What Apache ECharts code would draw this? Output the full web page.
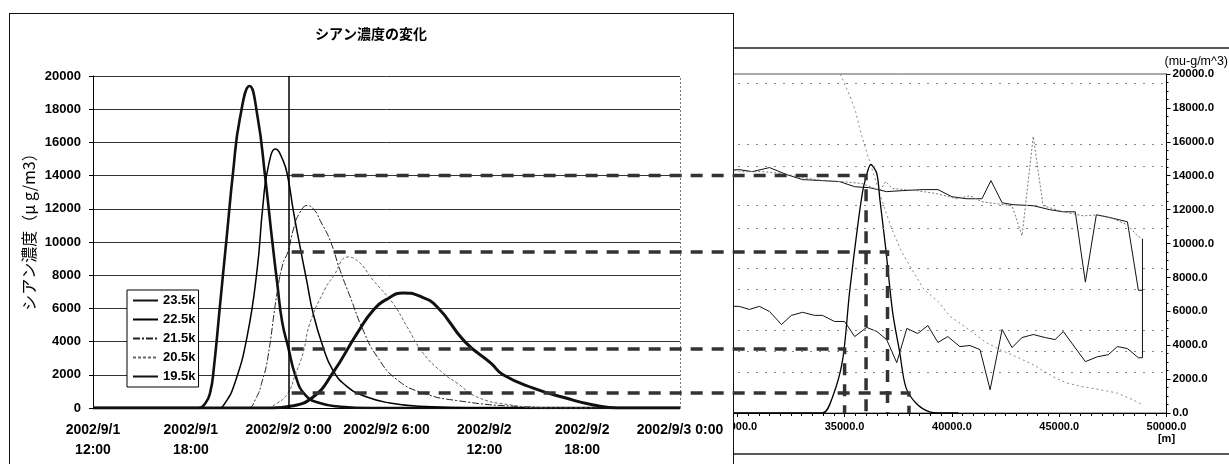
<!DOCTYPE html>
<html>
<head>
<meta charset="utf-8">
<script src="https://cdn.jsdelivr.net/npm/echarts@6/dist/echarts.min.js"></script>
<style>
  html, body { margin: 0; padding: 0; background: #fff; }
  #wrap { position: relative; width: 1229px; height: 464px; overflow: hidden; }
  .layer { position: absolute; left: 0; top: 0; width: 1229px; height: 464px; }
  #panel { position: absolute; left: 9px; top: 13px; width: 723px; height: 470px;
           border: 1px solid #111; background: #fff; }
</style>
</head>
<body>
<div id="wrap">
  <div id="profile" class="layer"></div>
  <div id="panel"></div>
  <div id="timeseries" class="layer"></div>
</div>
<script>
// ---- Time series: hours counted from 2002/9/1 12:00 ----
const hourTickLabels = ['2002/9/1\n12:00', '2002/9/1\n18:00', '2002/9/2 0:00', '2002/9/2 6:00',
                        '2002/9/2\n12:00', '2002/9/2\n18:00', '2002/9/3 0:00'];
const seriesNames = ['23.5k', '22.5k', '21.5k', '20.5k', '19.5k'];

const conc235 = [[0,0],[6.4,0],[6.9,300],[7.2,1000],[7.4,2300],[7.8,6300],[8.2,10300],[8.6,14300],
  [9.0,17400],[9.6,19400],[10.1,17500],[10.55,14000],[11.0,10000],[11.3,7500],[11.6,5200],[12.0,3550],
  [12.4,2000],[13.0,800],[13.9,300],[15.2,80],[17,0],[36,0]];
const conc225 = [[0,0],[7.7,0],[8.1,300],[8.7,1500],[9.45,4300],[10.06,8300],[10.43,12300],[10.74,14500],
  [11.2,15600],[11.66,14900],[11.95,13900],[12.3,11800],[12.7,9700],[13.1,7700],[13.5,5700],[14.1,3700],
  [14.7,2300],[15.6,1270],[16.8,660],[18.2,300],[20,100],[24,0],[36,0]];
const conc215 = [[0,0],[9.45,0],[10.0,600],[10.4,1700],[10.7,2900],[11.3,7000],[11.65,8700],[11.95,9400],
  [12.3,10800],[12.7,11800],[13.15,12200],[13.6,11900],[13.93,11300],[14.54,10100],[15.15,8300],[15.77,6700],
  [16.56,4700],[17.42,3100],[18.65,1700],[20.25,900],[22.3,450],[26,100],[30,0],[36,0]];
const conc205 = [[0,0],[10.5,0],[11.3,300],[11.96,900],[12.4,2000],[12.88,3300],[13.3,5100],[14.23,7170],
  [14.72,7900],[15.64,9100],[16.3,8800],[17.18,7700],[18.4,6300],[19.26,4900],[20.25,3300],[21.47,2100],
  [22.33,1500],[23.56,660],[25.5,200],[28,0],[36,0]];
const conc195 = [[0,0],[11,0],[12.1,100],[13.5,660],[14.7,2100],[16.2,4500],[17.2,5900],[18.1,6600],
  [19.0,6930],[20.0,6750],[21.1,6100],[22.8,4000],[24.4,2700],[25.15,2000],[27.0,1200],[29.0,600],
  [30.7,180],[32.2,0],[36,0]];

// ---- Longitudinal profile along the river (distance in m) ----
const profileUpperSolid = [[29500,14300],[30090,14360],[30700,14240],[31500,14480],[32290,14070],[33040,13770],
  [33970,13710],[34770,13650],[35470,13350],[36170,13290],[36960,13060],[37710,13120],[38650,13180],
  [39350,13180],[40000,12760],[40700,12640],[41400,12640],[41820,13710],[42340,12400],[42850,12290],
  [43790,12230],[44580,11990],[45190,11870],[45750,11870],[46220,7720],[46730,11690],[47240,11570],
  [48180,11280],[48690,7240],[48880,7240]];
const profileUpperDotted = [[29500,14400],[30230,14240],[31170,14240],[32100,14130],[33040,13890],[33970,13710],
  [34910,13650],[35840,13530],[36640,13120],[36920,13650],[37240,13240],[38370,13120],[39300,12940],
  [40230,12640],[40840,12820],[41400,12460],[42100,12350],[42800,12230],[43270,10450],[43790,16320],
  [44250,12230],[45190,11870],[46120,11630],[46780,11690],[47520,11460],[48180,11100],[48650,10450],
  [48880,10270]];
const profileLowerSolid = [[29500,6300],[30090,6290],[30560,6110],[31030,6290],[31500,5990],[32060,5220],
  [32520,5760],[33040,5940],[33600,5760],[33970,5760],[34530,5400],[35000,5400],[35470,4510],[36030,5050],
  [36500,4810],[36960,4330],[37430,2970],[37900,4990],[38410,4690],[38880,5160],[39350,4160],[39810,4510],
  [40370,3920],[40840,3980],[41310,3740],[41780,1370],[42340,4930],[42800,3860],[43270,4450],[43790,4630],
  [44350,4450],[44810,4330],[45190,4810],[46220,3030],[46780,3320],[47290,3440],[47710,3920],[48180,3800],
  [48690,3260],[48880,3260],[48880,10270]];
const profileDecay = [[34800,20000],[35230,18760],[35510,17810],[35700,16800],[35930,15790],[36820,12230],
  [37200,10860],[37660,9500],[38130,8490],[38690,7300],[39390,6530],[39910,5700],[40650,5050],[41590,4160],
  [42240,3740],[42990,3320],[43790,2850],[44720,2140],[45330,1780],[46120,1540],[46920,1370],[47660,1190],
  [48460,770],[48880,480]];
const profilePlume = [[29500,0],[33970,0],[34440,950],[34910,3150],[35230,7120],[35610,11040],[35840,13060],
  [35980,13830],[36220,14660],[36500,14130],[36640,12640],[36920,9670],[37240,5940],[37570,3560],
  [37850,1540],[38320,590],[38970,60],[39500,0],[40300,0]];
const referenceLevels = [19470, 15850, 14540, 12230, 10920, 8550, 7300, 4870, 3620, 2430];

// ---- Links between the 0:00 readings and the profile positions ----
const linkHour = 12;
const linkValues = [14000, 9400, 3550, 900];
const linkDistances = [36000, 37000, 35000, 38000];

const latin = 'Liberation Sans';
const cjk = 'Noto Sans CJK JP';

// ---------- profile chart (underneath) ----------
const profile = echarts.init(document.getElementById('profile'));
const thinLine = (data, color, type, width) => ({
  type: 'line', data, symbol: 'none', silent: true,
  lineStyle: { color, type, width }
});
profile.setOption({
  animation: false,
  backgroundColor: '#fff',
  grid: { left: 630, right: 60, top: 74, bottom: 51, show: true, borderColor: '#555', borderWidth: 1 },
  xAxis: {
    type: 'value', min: 25000, max: 50000, interval: 5000,
    axisLine: { lineStyle: { color: '#000', width: 1 } },
    axisTick: { show: true, length: 4, lineStyle: { color: '#000' } },
    minorTick: { show: true, splitNumber: 10, length: 3, lineStyle: { color: '#000' } },
    splitLine: { show: false },
    axisLabel: {
      color: '#000', fontFamily: latin, fontSize: 11, fontWeight: 'bold', margin: 8, lineHeight: 12,
      formatter: v => v === 50000 ? v.toFixed(1) + '\n[m]' : v.toFixed(1)
    }
  },
  yAxis: {
    type: 'value', position: 'right', min: 0, max: 20000, interval: 2000,
    name: '(mu-g/m^3)', nameLocation: 'end', nameGap: 6,
    nameTextStyle: { align: 'left', color: '#000', fontFamily: latin, fontSize: 12.5, padding: [0, 0, 0, -2] },
    axisLine: { show: true, lineStyle: { color: '#000' } },
    axisTick: { show: true, length: 4, lineStyle: { color: '#000' } },
    minorTick: { show: true, splitNumber: 4, length: 2, lineStyle: { color: '#000' } },
    splitLine: { show: false },
    axisLabel: { color: '#000', fontFamily: latin, fontSize: 11.5, fontWeight: 'bold', margin: 6,
                 formatter: v => v.toFixed(1) }
  },
  series: [
    Object.assign(thinLine(profileUpperSolid, '#111', 'solid', 1), {
      markLine: {
        silent: true, symbol: 'none', label: { show: false },
        lineStyle: { color: '#888', type: [2, 7], width: 1 },
        data: referenceLevels.map(v => ({ yAxis: v }))
      }
    }),
    thinLine(profileUpperDotted, '#777', [2, 2], 1),
    thinLine(profileLowerSolid, '#111', 'solid', 1),
    thinLine(profileDecay, '#888', [2, 3], 1),
    Object.assign(thinLine(profilePlume, '#000', 'solid', 1.3), { smooth: 0.3 })
  ],
  graphic: [
    { type: 'line', shape: { x1: 733, y1: 48, x2: 1229, y2: 48 }, style: { stroke: '#222', lineWidth: 1.5 } },
    { type: 'line', shape: { x1: 733, y1: 454, x2: 1229, y2: 454 }, style: { stroke: '#222', lineWidth: 1.5 } }
  ]
});

// ---------- time-series chart (on top) ----------
const ts = echarts.init(document.getElementById('timeseries'));
const styles = [
  { color: '#111', width: 2.6, type: 'solid' },
  { color: '#000', width: 1.5, type: 'solid' },
  { color: '#222', width: 1, type: [7, 2, 2, 2] },
  { color: '#666', width: 1, type: [3, 2] },
  { color: '#111', width: 3, type: 'solid' }
];
const concData = [conc235, conc225, conc215, conc205, conc195];
const tsSeries = concData.map((d, i) => ({
  name: seriesNames[i], type: 'line', data: d, symbol: 'none', smooth: 0.5, silent: true,
  lineStyle: styles[i], itemStyle: { color: styles[i].color }
}));
tsSeries[0].markLine = {
  silent: true, symbol: 'none', label: { show: false },
  data: [
    { xAxis: linkHour, lineStyle: { color: '#000', type: 'solid', width: 1.5 } },
    { xAxis: 36, lineStyle: { color: '#777', type: [2, 2], width: 1 } }
  ]
};

ts.setOption({
  animation: false,
  grid: { left: 93, right: 549, top: 76, bottom: 56 },
  legend: {
    orient: 'vertical', left: 127, top: 290, itemWidth: 25, itemHeight: 14, itemGap: 6,
    padding: [4, 3, 4, 5], backgroundColor: '#fff', borderColor: '#000', borderWidth: 1,
    itemStyle: { color: 'rgba(0,0,0,0)', borderColor: 'rgba(0,0,0,0)', borderWidth: 0, opacity: 0 },
    textStyle: { fontFamily: latin, fontSize: 13, fontWeight: 'bold', color: '#000' },
    data: seriesNames
  },
  xAxis: {
    type: 'value', min: 0, max: 36, interval: 6,
    axisLine: { lineStyle: { color: '#000', width: 1 } },
    axisTick: { show: false },
    splitLine: { show: false },
    axisLabel: {
      color: '#000', fontFamily: latin, fontSize: 14, fontWeight: 'bold', lineHeight: 20, margin: 12,
      formatter: v => hourTickLabels[Math.round(v / 6)]
    }
  },
  yAxis: {
    type: 'value', min: 0, max: 20000, interval: 2000,
    axisLine: { show: true, lineStyle: { color: '#000' } },
    axisTick: { show: true, length: 4, lineStyle: { color: '#000' } },
    splitLine: { lineStyle: { color: '#333', width: 1 } },
    axisLabel: { color: '#000', fontFamily: latin, fontSize: 13, fontWeight: 'bold', margin: 12,
                 formatter: v => String(v) }
  },
  series: tsSeries
});

// Title, vertical axis name and the dashed links carrying each 0:00 reading
// across to its position on the profile.
const linkGraphics = linkValues.map((v, i) => {
  const a = ts.convertToPixel({ gridIndex: 0 }, [linkHour, v]);
  const b = profile.convertToPixel({ gridIndex: 0 }, [linkDistances[i], 0]);
  return {
    type: 'polyline', silent: true, z: 100,
    shape: { points: [[a[0] + 3, a[1]], [b[0], a[1]], [b[0], b[1]]] },
    style: { stroke: '#333', fill: null, lineWidth: 3.5, lineDash: [12, 9] }
  };
});
const plotTop = ts.convertToPixel({ gridIndex: 0 }, [0, 20000])[1];
const plotBottom = ts.convertToPixel({ gridIndex: 0 }, [0, 0])[1];
ts.setOption({
  graphic: [
    {
      type: 'text', x: 371, y: 34, silent: true,
      style: { text: 'シアン濃度の変化', fill: '#000', fontFamily: cjk, fontSize: 14, fontWeight: 'bold',
               align: 'center', verticalAlign: 'middle' }
    },
    {
      type: 'text', x: 29, y: (plotTop + plotBottom) / 2 - 14, rotation: Math.PI / 2, silent: true,
      style: { text: 'シアン濃度（μ g/m3）', fill: '#000', fontFamily: cjk, fontSize: 16,
               align: 'center', verticalAlign: 'middle' }
    }
  ].concat(linkGraphics)
});
</script>
</body>
</html>
